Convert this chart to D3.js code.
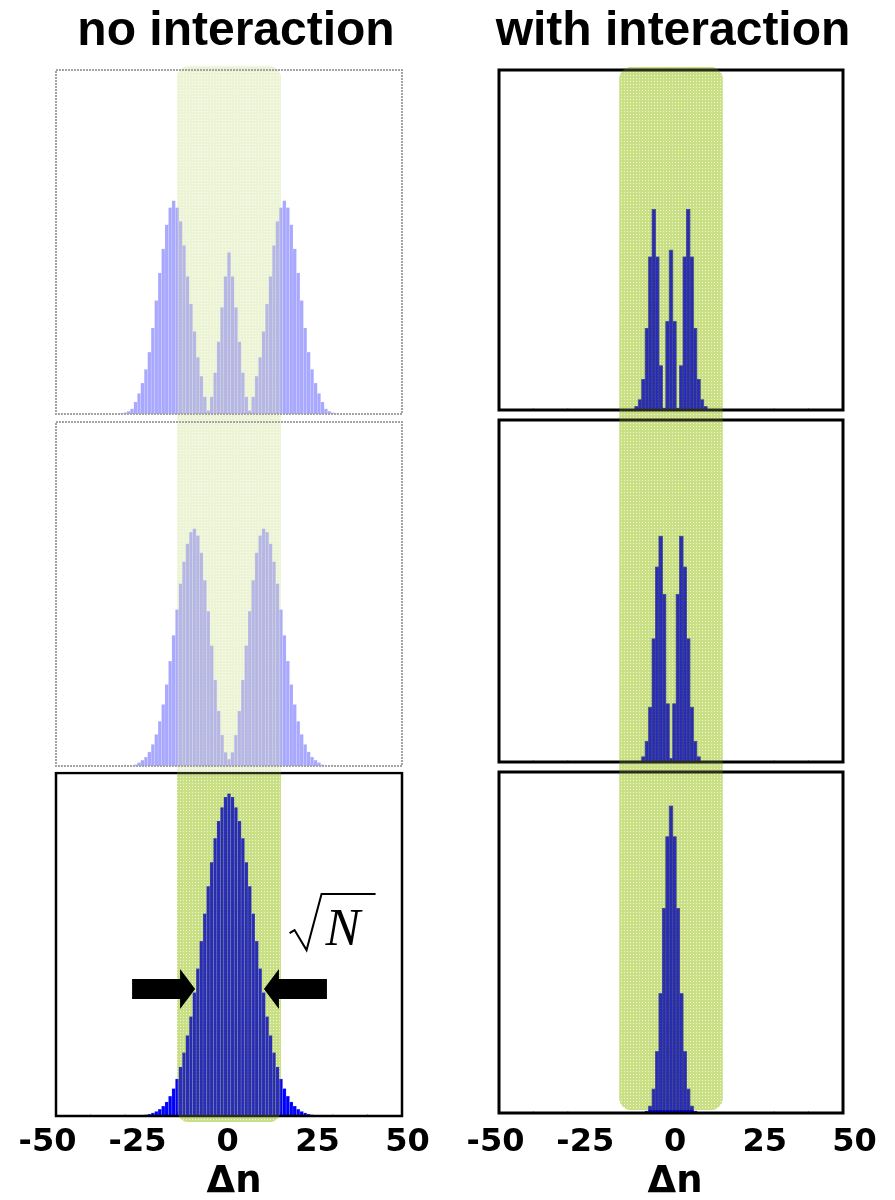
<!DOCTYPE html>
<html lang="en">
<head>
    <meta charset="UTF-8">
    <title>no interaction / with interaction</title>
    <script src="https://cdn.jsdelivr.net/npm/d3@7"></script>
    <style>
        body { margin: 0; background: #fff; }
    </style>
</head>
<body>
<script type="text/javascript">
    // ---- data (heights as fraction of panel height) ----
    var titles = ["no interaction", "with interaction"];
    var tickValues = [-50, -25, 0, 25, 50];
    var bandRange = [-15, 15];

    var leftBins = d3.range(-32, 33);   // delta n, -32 .. 32
    var noIntTop = [0, .002, .004, .008, .015, .035, .06, .09, .13, .18, .25, .33, .41, .48, .55, .60,
        .62, .60, .56, .49, .40, .32, .24, .165, .11, .05, .01, .05, .12, .21, .31, .40,
        .47,
        .40, .31, .21, .12, .05, .01, .05, .11, .165, .24, .32, .40, .49, .56, .60, .62,
        .60, .55, .48, .41, .33, .25, .18, .13, .09, .06, .035, .015, .008, .004, .002, 0];
    var noIntMid = [0, 0, 0, 0, 0, .004, .01, .017, .026, .041, .063, .092, .13, .179, .237, .305,
        .38, .455, .53, .594, .646, .68, .69, .67, .62, .54, .45, .35, .25, .16, .09, .04,
        .02,
        .04, .09, .16, .25, .35, .45, .54, .62, .67, .69, .68, .646, .594, .53, .455, .38,
        .305, .237, .179, .13, .092, .063, .041, .026, .017, .01, .004, 0, 0, 0, 0, 0];
    var noIntBot = [0, 0, 0, 0, 0, 0, 0, .0023, .0037, .0056, .009, .0135, .02, .029, .041, .058,
        .08, .108, .143, .185, .235, .29, .36, .43, .51, .59, .67, .74, .81, .86, .90, .93,
        .94,
        .93, .90, .86, .81, .74, .67, .59, .51, .43, .36, .29, .235, .185, .143, .108, .08,
        .058, .041, .029, .02, .0135, .009, .0056, .0037, .0023, 0, 0, 0, 0, 0, 0, 0];

    var rightBins = d3.range(-10, 11);  // delta n, -10 .. 10
    var withIntTop = [.01, .03, .09, .24, .45, .59, .45, .13, .005, .26, .47, .26, .005, .13, .45, .59, .45, .24, .09, .03, .01];
    var withIntMid = [0, 0, .015, .06, .16, .36, .57, .66, .49, .17, .01, .17, .49, .66, .57, .36, .16, .06, .015, 0, 0];
    var withIntBot = [0, 0, 0, .005, .02, .07, .18, .35, .60, .81, .90, .81, .60, .35, .18, .07, .02, .005, 0, 0, 0];

    // sqrt(N) arrows sit at this half width, at this height of the bottom-left panel
    var arrowHalfWidth = 9.8;
    var arrowLevel = 0.37;

    // ---- layout ----
    var width = 895, height = 1200;
    var columns = [
        {
            title: titles[0], titleX: 236, x0: 56, x1: 402, labelRange: [47, 407], labelX: 234,
            panels: [[70, 414], [422, 766], [773, 1116]],
            series: [noIntTop, noIntMid, noIntBot], bins: leftBins,
            band: [66, 1122], faded: 2
        },
        {
            title: titles[1], titleX: 673, x0: 499, x1: 843, labelRange: [495, 854], labelX: 675,
            panels: [[70, 410], [420, 762], [772, 1113]],
            series: [withIntTop, withIntMid, withIntBot], bins: rightBins,
            band: [67, 1110], faded: 0
        }
    ];

    var svg = d3.select("body").append("svg")
        .attr("width", width)
        .attr("height", height);

    svg.append("rect").attr("width", width).attr("height", height).attr("fill", "#fff");

    var defs = svg.append("defs");
    var pat = defs.append("pattern")
        .attr("id", "dots")
        .attr("width", 3).attr("height", 3)
        .attr("patternUnits", "userSpaceOnUse");
    pat.append("rect").attr("width", 3).attr("height", 3).attr("fill", "#c8df84");
    pat.append("rect").attr("width", 1).attr("height", 1).attr("fill", "#eef5d8");

    columns.forEach(function (col, ci) {
        var g = svg.append("g");
        var x = d3.scaleLinear().domain([-50, 50]).range([col.x0, col.x1]);

        var band = function (opacity, blend) {
            g.append("rect")
                .attr("x", x(bandRange[0]))
                .attr("width", x(bandRange[1]) - x(bandRange[0]))
                .attr("y", col.band[0])
                .attr("height", col.band[1] - col.band[0])
                .attr("rx", 12)
                .attr("fill", "url(#dots)")
                .attr("opacity", opacity)
                .style("mix-blend-mode", blend);
        };

        // highlighted band, under the bars
        band(1, "normal");

        // histograms
        col.panels.forEach(function (p, pi) {
            var y = d3.scaleLinear().domain([0, 1]).range([p[1], p[0]]);
            var data = col.series[pi].map(function (v, i) { return {d: col.bins[i], v: v}; })
                .filter(function (e) { return e.v > 0; });
            g.append("g").selectAll("rect")
                .data(data)
                .enter()
                .append("rect")
                .attr("x", function (e) { return x(e.d - 0.5); })
                .attr("width", function (e) { return x(e.d + 0.5) - x(e.d - 0.5); })
                .attr("y", function (e) { return y(e.v); })
                .attr("height", function (e) { return p[1] - y(e.v); })
                .attr("fill", "#0000ff")
                .attr("stroke", ci === 1 ? "#1f1f96" : "rgba(255,255,255,0.25)")
                .attr("stroke-width", ci === 1 ? 0.8 : 0.5);

            // tiny inner ticks on the baseline
            g.append("g").selectAll("line")
                .data([-40, -30, 30, 40])
                .enter()
                .append("line")
                .attr("x1", function (d) { return x(d); })
                .attr("x2", function (d) { return x(d); })
                .attr("y1", p[1] - 2)
                .attr("y2", p[1])
                .attr("stroke", "#aaa")
                .attr("stroke-width", 1);
        });

        // solid frames
        col.panels.forEach(function (p, pi) {
            if (pi < col.faded) return;
            g.append("rect")
                .attr("x", col.x0).attr("y", p[0])
                .attr("width", col.x1 - col.x0).attr("height", p[1] - p[0])
                .attr("fill", "none")
                .attr("stroke", "#000")
                .attr("stroke-width", ci === 1 ? 3 : 2.5);
        });

        // band again over bars and frames: darkens the bars, tints the lines
        band(0.6, "darken");
        band(0.2, "normal");

        // fade the upper panels of the left column
        if (col.faded > 0) {
            g.append("rect")
                .attr("x", col.x0 - 6)
                .attr("y", col.band[0] - 2)
                .attr("width", col.x1 - col.x0 + 12)
                .attr("height", col.panels[col.faded][0] - col.band[0] + 1)
                .attr("fill", "#fff")
                .attr("opacity", 0.66);
            col.panels.slice(0, col.faded).forEach(function (p) {
                g.append("rect")
                    .attr("x", col.x0).attr("y", p[0])
                    .attr("width", col.x1 - col.x0).attr("height", p[1] - p[0])
                    .attr("fill", "none")
                    .attr("stroke", "#a4a4a4")
                    .attr("stroke-width", 2)
                    .attr("stroke-dasharray", "2,1");
            });
        }

        // tick labels
        var lx = d3.scaleLinear().domain([-50, 50]).range(col.labelRange);
        var axis = g.append("g")
            .attr("transform", "translate(0," + 1128 + ")")
            .call(d3.axisBottom(lx).tickValues(tickValues).tickSize(0).tickPadding(0)
                .tickFormat(function (d) { return String(d); }));
        axis.select(".domain").remove();
        axis.selectAll("text")
            .attr("font-family", "DejaVu Sans, sans-serif")
            .attr("font-weight", "bold")
            .attr("font-size", "32px")
            .attr("fill", "#000");

        // axis title
        g.append("text")
            .attr("x", col.labelX)
            .attr("y", 1192)
            .attr("text-anchor", "middle")
            .attr("font-family", "DejaVu Sans, sans-serif")
            .attr("font-weight", "bold")
            .attr("font-size", "37px")
            .text("\u0394n");

        // column title
        g.append("text")
            .attr("x", col.titleX)
            .attr("y", 45)
            .attr("text-anchor", "middle")
            .attr("font-family", "Liberation Sans, Arial, sans-serif")
            .attr("font-weight", "bold")
            .attr("font-size", "48px")
            .text(col.title);

        // sqrt(N) annotation in the bottom-left panel
        if (ci === 0) {
            var p = col.panels[2];
            var y = d3.scaleLinear().domain([0, 1]).range([p[1], p[0]]);
            var ay = y(arrowLevel);
            var arrow = function (tip, dir) {
                var headLen = 15, headH = 20, bodyH = 10, len = 63;
                return [
                    [tip, ay],
                    [tip - dir * headLen, ay - headH],
                    [tip - dir * headLen, ay - bodyH],
                    [tip - dir * len, ay - bodyH],
                    [tip - dir * len, ay + bodyH],
                    [tip - dir * headLen, ay + bodyH],
                    [tip - dir * headLen, ay + headH]
                ];
            };
            g.selectAll("polygon.arrow")
                .data([arrow(x(-arrowHalfWidth), 1), arrow(x(arrowHalfWidth + 0.3), -1)])
                .enter()
                .append("polygon")
                .attr("class", "arrow")
                .attr("points", function (pts) { return pts.map(function (q) { return q.join(","); }).join(" "); })
                .attr("fill", "#000");

            var sx = x(17.5);
            g.append("path")
                .attr("d", "M" + sx + "," + (ay - 56) + " l5,-3 l12,20 l15,-56 h54")
                .attr("fill", "none")
                .attr("stroke", "#000")
                .attr("stroke-width", 2)
                .attr("stroke-linejoin", "miter");
            g.append("text")
                .attr("x", sx + 36)
                .attr("y", ay - 44)
                .attr("font-family", "Liberation Serif, Times New Roman, serif")
                .attr("font-style", "italic")
                .attr("font-size", "52px")
                .text("N");
        }
    });
</script>
</body>
</html>
